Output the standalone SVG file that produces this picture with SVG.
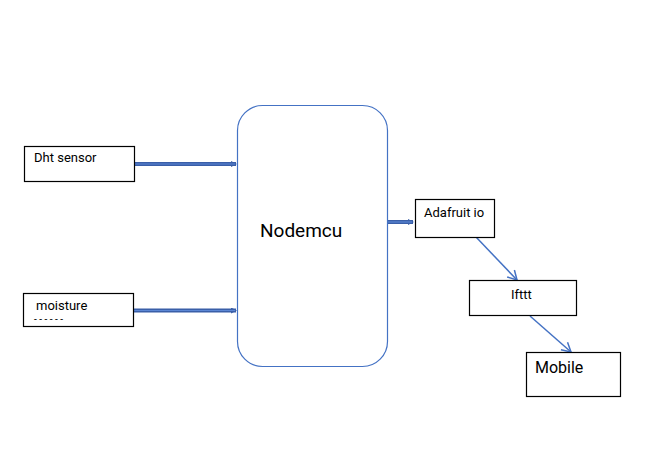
<svg xmlns="http://www.w3.org/2000/svg" width="651" height="476" viewBox="0 0 651 476">
<defs>
<style>
.box{fill:#fff;stroke:#000;stroke-width:1.2}
.t{font-family:Roboto,"Liberation Sans",sans-serif;fill:#000}
.thick{stroke:#3A5FA8;stroke-width:4;fill:none}
.inner{stroke:#5B86D4;stroke-width:1.2;fill:none}
.thin{stroke:#4472C4;stroke-width:1.5;fill:none}
</style>
<marker id="ah" markerWidth="6" markerHeight="6" refX="5" refY="3" orient="auto" markerUnits="userSpaceOnUse">
<path d="M0,0 L6,3 L0,6 Z" fill="#3A5FA8"/>
</marker>
<marker id="open" markerWidth="12" markerHeight="12" refX="10" refY="6" orient="auto" markerUnits="userSpaceOnUse">
<path d="M1,1 L10,6 L1,11" fill="none" stroke="#4472C4" stroke-width="1.5"/>
</marker>
</defs>
<rect width="651" height="476" fill="#fff"/>
<g id="connectors">
<line class="thick" x1="135" y1="164" x2="236" y2="164" marker-end="url(#ah)"/>
<line class="inner" x1="135" y1="164" x2="235" y2="164"/>
<line class="thick" x1="133" y1="310.5" x2="236" y2="310.5" marker-end="url(#ah)"/>
<line class="inner" x1="133" y1="310.5" x2="235" y2="310.5"/>
<line class="thick" x1="388" y1="222" x2="413" y2="222" marker-end="url(#ah)"/>
<line class="inner" x1="388" y1="222" x2="412" y2="222"/>
<line class="thin" x1="476" y1="237" x2="517" y2="280" marker-end="url(#open)"/>
<line class="thin" x1="530" y1="316" x2="571" y2="352" marker-end="url(#open)"/>
</g>
<g id="dht">
<rect class="box" x="24.5" y="146.5" width="110" height="35"/>
<text class="t" x="34" y="162" font-size="13">Dht sensor</text>
</g>
<g id="moisture">
<rect class="box" x="23.5" y="293.5" width="110" height="33"/>
<text class="t" x="36" y="310" font-size="13">moisture</text>
<text class="t" x="34" y="323" font-size="10">- - - - - -</text>
</g>
<g id="nodemcu">
<rect x="237.5" y="105.5" width="150" height="261" rx="25" ry="25" fill="#fff" stroke="#4472C4" stroke-width="1.2"/>
<text class="t" x="260" y="237" font-size="19">Nodemcu</text>
</g>
<g id="adafruit">
<rect class="box" x="415.5" y="199.5" width="79" height="38"/>
<text class="t" x="424" y="217" font-size="13">Adafruit io</text>
</g>
<g id="ifttt">
<rect class="box" x="469.5" y="280.5" width="107" height="35"/>
<text class="t" x="511" y="299" font-size="13">Ifttt</text>
</g>
<g id="mobile">
<rect class="box" x="526.5" y="352.5" width="94" height="44"/>
<text class="t" x="535" y="373" font-size="16">Mobile</text>
</g>
</svg>
